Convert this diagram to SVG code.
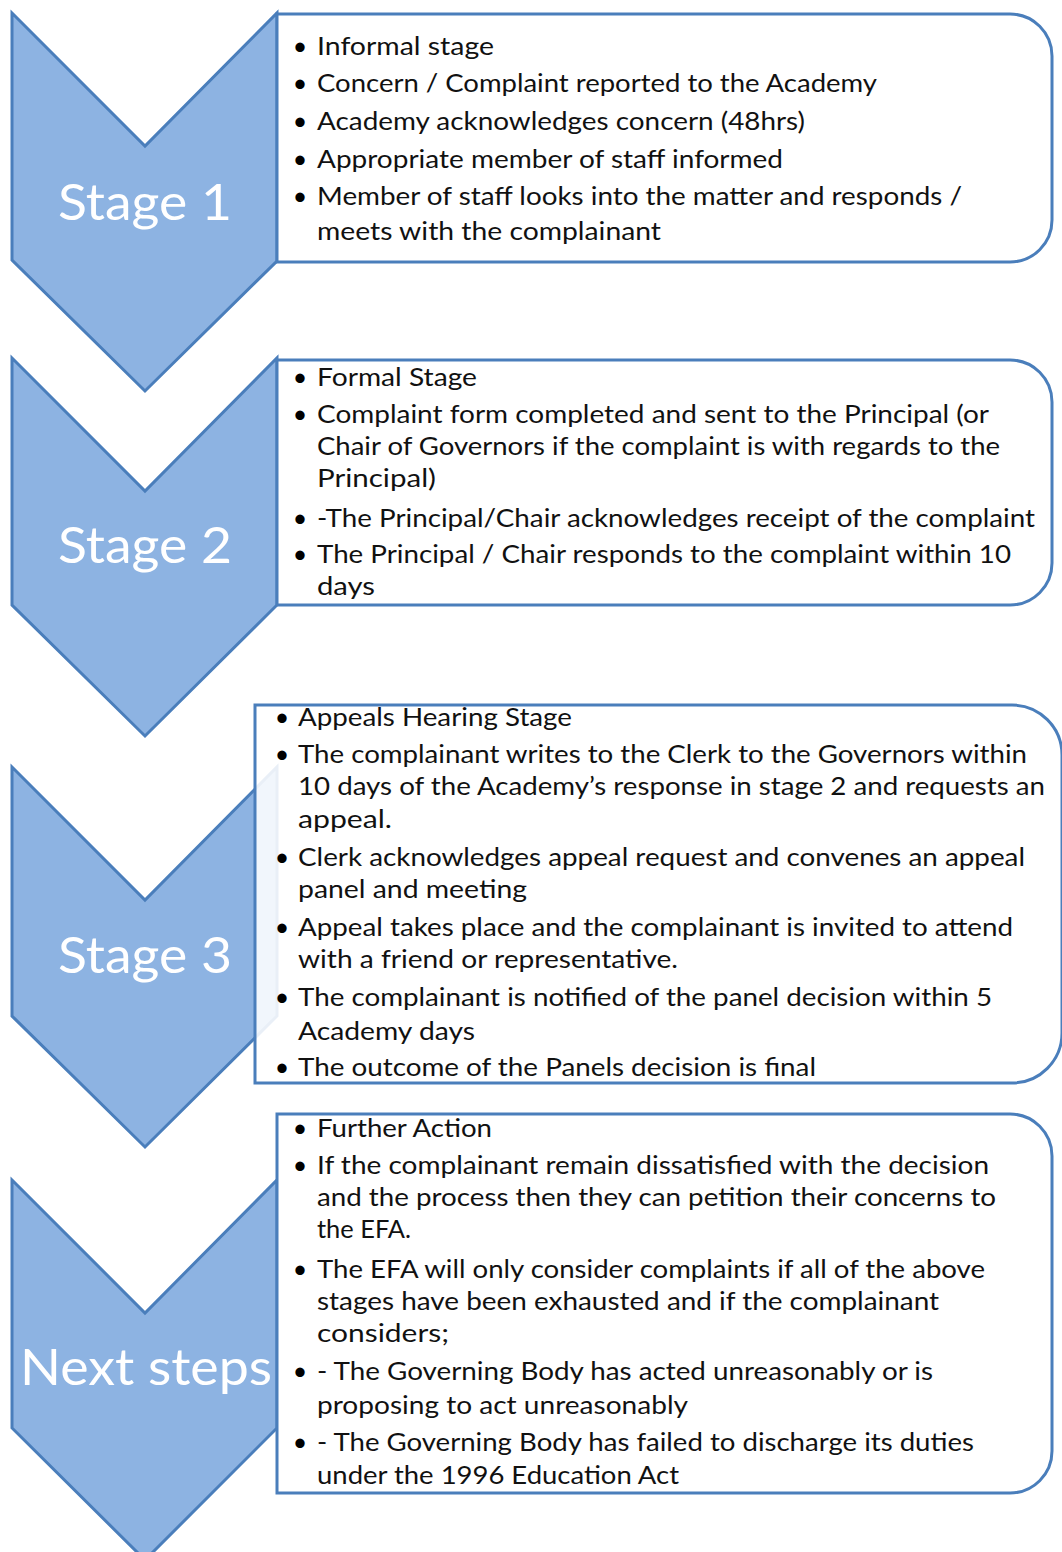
<svg xmlns="http://www.w3.org/2000/svg" width="1062" height="1552" viewBox="0 0 1062 1552">
<style>
.chev{fill:#8db3e2;stroke:#4a7ebb;stroke-width:3;stroke-linejoin:miter}
.box{fill:#ffffff;stroke:#4a7ebb;stroke-width:3}
.box3{fill:#ffffff;fill-opacity:0.88;stroke:#4a7ebb;stroke-width:3}
.lbl{font-family:Lato,"Liberation Sans",sans-serif;font-size:50px;fill:#ffffff;text-anchor:middle}
.t{font-family:Lato,"Liberation Sans",sans-serif;font-size:25px;fill:#111111}
.b{font-family:Lato,"Liberation Sans",sans-serif;font-size:25px;fill:#000000;text-anchor:middle}
</style>
<rect x="0" y="0" width="1062" height="1552" fill="#ffffff"/>
<g id="connectors"/>
<g id="stage1">
<path class="chev" d="M12,13 L145,146 L277,13 L277,261 L145,391 L12,260 Z"/>
<text class="lbl" x="145" y="220" textLength="174" lengthAdjust="spacingAndGlyphs">Stage 1</text>
<path class="box" d="M277,14 H1010 A42,42 0 0 1 1052,56 V220 A42,42 0 0 1 1010,262 H277 Z"/>
<text class="b" x="300" y="55">•</text><text class="t" x="317" y="55" textLength="177" lengthAdjust="spacingAndGlyphs">Informal stage</text>
<text class="b" x="300" y="92">•</text><text class="t" x="317" y="92" textLength="560" lengthAdjust="spacingAndGlyphs">Concern / Complaint reported to the Academy</text>
<text class="b" x="300" y="130">•</text><text class="t" x="317" y="130" textLength="488" lengthAdjust="spacingAndGlyphs">Academy acknowledges concern (48hrs)</text>
<text class="b" x="300" y="168">•</text><text class="t" x="317" y="168" textLength="466" lengthAdjust="spacingAndGlyphs">Appropriate member of staff informed</text>
<text class="b" x="300" y="205">•</text><text class="t" x="317" y="205" textLength="645" lengthAdjust="spacingAndGlyphs">Member of staff looks into the matter and responds /</text>
<text class="t" x="317" y="240" textLength="344" lengthAdjust="spacingAndGlyphs">meets with the complainant</text>
</g>
<g id="stage2">
<path class="chev" d="M12,358 L145,491 L277,358 L277,605 L145,736 L12,605 Z"/>
<text class="lbl" x="145" y="563" textLength="174" lengthAdjust="spacingAndGlyphs">Stage 2</text>
<path class="box" d="M277,360 H1010 A42,42 0 0 1 1052,402 V563 A42,42 0 0 1 1010,605 H277 Z"/>
<text class="b" x="300" y="386">•</text><text class="t" x="317" y="386" textLength="160" lengthAdjust="spacingAndGlyphs">Formal Stage</text>
<text class="b" x="300" y="423">•</text><text class="t" x="317" y="423" textLength="672" lengthAdjust="spacingAndGlyphs">Complaint form completed and sent to the Principal (or</text>
<text class="t" x="317" y="455" textLength="683" lengthAdjust="spacingAndGlyphs">Chair of Governors if the complaint is with regards to the</text>
<text class="t" x="317" y="487" textLength="119" lengthAdjust="spacingAndGlyphs">Principal)</text>
<text class="b" x="300" y="527">•</text><text class="t" x="317" y="527" textLength="718" lengthAdjust="spacingAndGlyphs">-The Principal/Chair acknowledges receipt of the complaint</text>
<text class="b" x="300" y="563">•</text><text class="t" x="317" y="563" textLength="694" lengthAdjust="spacingAndGlyphs">The Principal / Chair responds to the complaint within 10</text>
<text class="t" x="317" y="595" textLength="58" lengthAdjust="spacingAndGlyphs">days</text>
</g>
<g id="stage3">
<path class="chev" d="M12,767 L145,900 L277,767 L277,1016 L145,1147 L12,1016 Z"/>
<text class="lbl" x="145" y="973" textLength="174" lengthAdjust="spacingAndGlyphs">Stage 3</text>
<path class="box3" d="M255,705 H1012 A50,50 0 0 1 1062,755 V1033 A50,50 0 0 1 1012,1083 H255 Z"/>
<text class="b" x="282" y="726">•</text><text class="t" x="298" y="726" textLength="274" lengthAdjust="spacingAndGlyphs">Appeals Hearing Stage</text>
<text class="b" x="282" y="763">•</text><text class="t" x="298" y="763" textLength="729" lengthAdjust="spacingAndGlyphs">The complainant writes to the Clerk to the Governors within</text>
<text class="t" x="298" y="795" textLength="747" lengthAdjust="spacingAndGlyphs">10 days of the Academy’s response in stage 2 and requests an</text>
<text class="t" x="298" y="828" textLength="94" lengthAdjust="spacingAndGlyphs">appeal.</text>
<text class="b" x="282" y="866">•</text><text class="t" x="298" y="866" textLength="727" lengthAdjust="spacingAndGlyphs">Clerk acknowledges appeal request and convenes an appeal</text>
<text class="t" x="298" y="898" textLength="229" lengthAdjust="spacingAndGlyphs">panel and meeting</text>
<text class="b" x="282" y="936">•</text><text class="t" x="298" y="936" textLength="715" lengthAdjust="spacingAndGlyphs">Appeal takes place and the complainant is invited to attend</text>
<text class="t" x="298" y="968" textLength="380" lengthAdjust="spacingAndGlyphs">with a friend or representative.</text>
<text class="b" x="282" y="1006">•</text><text class="t" x="298" y="1006" textLength="694" lengthAdjust="spacingAndGlyphs">The complainant is notified of the panel decision within 5</text>
<text class="t" x="298" y="1040" textLength="177" lengthAdjust="spacingAndGlyphs">Academy days</text>
<text class="b" x="282" y="1076">•</text><text class="t" x="298" y="1076" textLength="518" lengthAdjust="spacingAndGlyphs">The outcome of the Panels decision is final</text>
</g>
<g id="stage4">
<path class="chev" d="M12,1180 L145,1313 L277,1180 L277,1428 L145,1560 L12,1428 Z"/>
<text class="lbl" x="146" y="1385" textLength="252" lengthAdjust="spacingAndGlyphs">Next steps</text>
<path class="box" d="M277,1114 H1010 A42,42 0 0 1 1052,1156 V1451 A42,42 0 0 1 1010,1493 H277 Z"/>
<text class="b" x="300" y="1137">•</text><text class="t" x="317" y="1137" textLength="175" lengthAdjust="spacingAndGlyphs">Further Action</text>
<text class="b" x="300" y="1174">•</text><text class="t" x="317" y="1174" textLength="672" lengthAdjust="spacingAndGlyphs">If the complainant remain dissatisfied with the decision</text>
<text class="t" x="317" y="1206" textLength="679" lengthAdjust="spacingAndGlyphs">and the process then they can petition their concerns to</text>
<text class="t" x="317" y="1238" textLength="94" lengthAdjust="spacingAndGlyphs">the EFA.</text>
<text class="b" x="300" y="1278">•</text><text class="t" x="317" y="1278" textLength="668" lengthAdjust="spacingAndGlyphs">The EFA will only consider complaints if all of the above</text>
<text class="t" x="317" y="1310" textLength="622" lengthAdjust="spacingAndGlyphs">stages have been exhausted and if the complainant</text>
<text class="t" x="317" y="1342" textLength="132" lengthAdjust="spacingAndGlyphs">considers;</text>
<text class="b" x="300" y="1380">•</text><text class="t" x="317" y="1380" textLength="616" lengthAdjust="spacingAndGlyphs">- The Governing Body has acted unreasonably or is</text>
<text class="t" x="317" y="1414" textLength="371" lengthAdjust="spacingAndGlyphs">proposing to act unreasonably</text>
<text class="b" x="300" y="1451">•</text><text class="t" x="317" y="1451" textLength="657" lengthAdjust="spacingAndGlyphs">- The Governing Body has failed to discharge its duties</text>
<text class="t" x="317" y="1484" textLength="362" lengthAdjust="spacingAndGlyphs">under the 1996 Education Act</text>
</g>
</svg>
